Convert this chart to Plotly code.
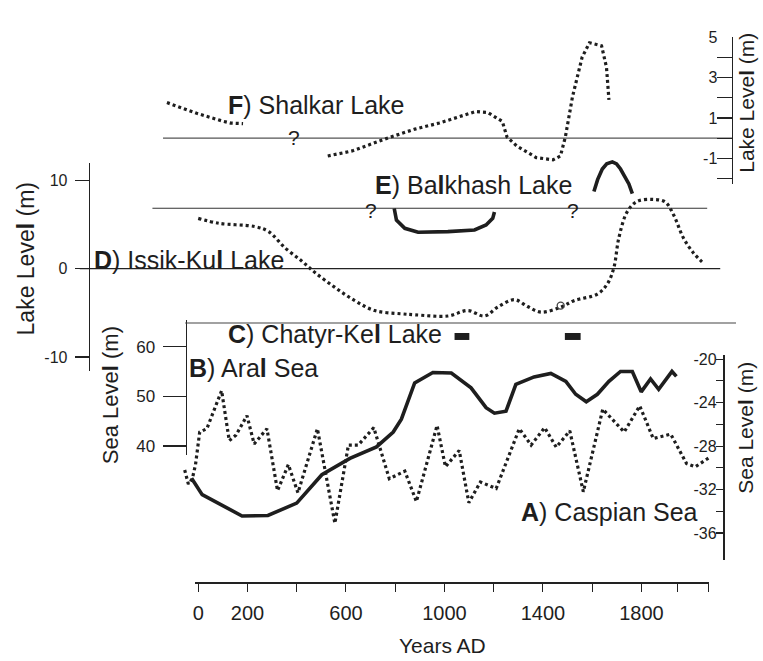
import plotly.graph_objects as go

W, H = 763, 661

# ---------------- data ----------------
caspian_years = [-55, -40, -24, -11, 6, 35, 95, 126, 153, 198, 227, 279, 322, 366, 405,
                 484, 555, 610, 650, 713, 776, 839, 886, 970, 1004, 1060, 1099, 1146, 1210,
                 1304, 1352, 1407, 1454, 1509, 1564, 1643, 1730, 1793, 1848, 1919, 1983, 2019, 2072]
caspian_level = [-30.2, -31.5, -31.0, -29.7, -26.7, -26.4, -22.9, -27.5, -27.0, -25.2, -27.8, -26.4,
                 -32.1, -29.7, -32.3, -26.4, -35.1, -27.9, -27.9, -26.3, -31.0, -30.3, -33.1, -26.1,
                 -29.9, -28.4, -33.2, -31.3, -31.9, -26.4, -27.9, -26.3, -28.1, -26.6, -32.2, -24.6,
                 -26.7, -24.3, -27.3, -26.9, -29.6, -29.9, -29.1]

aral_years = [-27, 16, 178, 283, 400, 502, 616, 724, 792, 825, 879, 953, 1028, 1108, 1169, 1203,
              1250, 1290, 1364, 1432, 1493, 1533, 1576, 1621, 1668, 1715, 1763, 1799, 1837, 1870,
              1924, 1942]
aral_level = [33.5, 30.2, 25.9, 26.0, 28.5, 34.2, 37.5, 39.8, 42.8, 45.4, 52.7, 54.8, 54.7, 51.7,
              47.7, 46.6, 47.0, 52.4, 53.9, 54.6, 53.0, 50.4, 48.9, 50.4, 53.0, 55.0, 55.0, 50.9,
              53.5, 51.4, 55.0, 54.0]

issikkul_years = [0, 84, 232, 286, 353, 421, 475, 555, 636, 717, 825, 879, 1014, 1095, 1162, 1216,
                  1284, 1338, 1392, 1472, 1526, 1621, 1661, 1688, 1708, 1742, 1783, 1850, 1897,
                  1931, 1971, 2011, 2046]
issikkul_level = [5.70, 5.14, 4.76, 4.20, 2.35, 0.85, -0.45, -2.12, -3.62, -4.74, -5.11, -5.22,
                  -5.36, -4.74, -5.36, -4.36, -3.51, -4.29, -4.92, -4.36, -3.62, -2.87, -1.75,
                  0.11, 3.46, 6.44, 7.63, 7.85, 7.55, 6.07, 3.46, 1.79, 0.78]
issikkul_circle_year = [1472]
issikkul_circle_level = [-4.18]

balkhash_years = [796, 805, 839, 893, 1014, 1122, 1169, 1196, 1203, None,
                  1607, 1622, 1641, 1659, 1682, 1699, 1715, 1735, 1749, 1763]
balkhash_level = [-0.03, -1.29, -2.18, -2.61, -2.54, -2.36, -1.82, -1.10, -0.40, None,
                  1.82, 3.11, 4.26, 4.82, 5.04, 4.82, 4.26, 3.32, 2.64, 1.58]

shalkar_years = [-127, -6, 103, 132, 182, None, 526, 625, 782, 880, 979, 1127, 1176, 1235, 1254,
                 1294, 1373, 1441, 1471, 1491, 1520, 1559, 1589, 1638, 1658, 1668]
shalkar_level = [1.76, 1.23, 0.83, 0.75, 0.72, None, -0.88, -0.63, 0.06, 0.45, 0.75, 1.32, 1.27,
                 0.83, 0.06, -0.39, -0.96, -1.07, -0.88, 0.06, 2.05, 4.00, 4.72, 4.57, 3.51, 1.89]

chatyrkel_years = [1041, 1101, None, 1489, 1553]
chatyrkel_level = [-1, -1, None, -1, -1]

# reference (zero) lines of the lake panels: [start year, end year]
shalkar_zero = [-143, 2168]
balkhash_zero = [-186, 2067]
issikkul_zero = [-481, 2120]
chatyrkel_zero = [-53, 2184]

year_ticks = [0, 200, 400, 600, 800, 1000, 1200, 1400, 1600, 1800, 1946, 2073]
year_labels = ['0', '200', '', '600', '', '1000', '', '1400', '', '1800', '', '']
caspian_ticks = [-20, -22, -24, -26, -28, -30, -32, -34, -36]
caspian_labels = ['-20', '', '-24', '', '-28', '', '-32', '', '-36']
aral_ticks = [40, 50, 60]
aral_labels = ['40', '50', '60']
issik_ticks = [10, 0, -10]
issik_labels = ['10', '0', '-10']
shalkar_ticks = [5, 4, 3, 2, 1, 0, -1, -2]
shalkar_labels = ['5', '', '3', '', '1', '', '-1', '']

# ---------------- geometry helpers (layout only) ----------------
def pxx(px):
    return px / W

def pxy(py):
    return 1 - py / H

YEAR0_PX, PX_PER_YEAR = 196.0, 0.2472

def year_at(px):
    return (px - YEAR0_PX) / PX_PER_YEAR

def lin_range(ref_px, ref_val, ppu, top_px=0.0, bottom_px=float(H)):
    return [ref_val - (bottom_px - ref_px) / ppu, ref_val + (ref_px - top_px) / ppu]

FONT = "Liberation Sans, Arial, Helvetica, sans-serif"
INK = "#1e1e1e"
LINE = "#222222"
DOT = "3px,3px"

fig = go.Figure()

def add(x, y, yaxis, **kw):
    fig.add_trace(go.Scatter(x=x, y=y, xaxis='x', yaxis=yaxis, mode='lines',
                             showlegend=False, hoverinfo='skip', **kw))

# zero lines
add(shalkar_zero, [0, 0], 'y7', line=dict(color='#555', width=1.2))
add(balkhash_zero, [0, 0], 'y6', line=dict(color='#333', width=1.1))
add(issikkul_zero, [0, 0], 'y4', line=dict(color='#222', width=1.2))
add(chatyrkel_zero, [0, 0], 'y9', line=dict(color='#444', width=1.1))

# series
add(shalkar_years, shalkar_level, 'y7', line=dict(color=INK, width=3.2, dash=DOT))
add(balkhash_years, balkhash_level, 'y6', line=dict(color=INK, width=3.6))
add(issikkul_years, issikkul_level, 'y4', line=dict(color=INK, width=3.2, dash=DOT),
    line_shape='spline')
fig.add_trace(go.Scatter(x=issikkul_circle_year, y=issikkul_circle_level, xaxis='x', yaxis='y4',
                         mode='markers', showlegend=False, hoverinfo='skip',
                         marker=dict(symbol='circle-open', size=7, color='#444',
                                     line=dict(width=1.3, color='#444'))))
add(chatyrkel_years, chatyrkel_level, 'y9', line=dict(color=INK, width=7))
add(aral_years, aral_level, 'y2', line=dict(color=INK, width=3.6))
add(caspian_years, caspian_level, 'y', line=dict(color=INK, width=3.2, dash=DOT))

# placeholders so that the pure-display axes get drawn
for ya in ['y3', 'y5', 'y8']:
    add([None], [None], ya)
fig.add_trace(go.Scatter(x=[None], y=[None], xaxis='x2', yaxis='y', mode='lines',
                         showlegend=False, hoverinfo='skip'))

hidden = dict(visible=False, showgrid=False, zeroline=False, fixedrange=True)

def shown(**kw):
    d = dict(showgrid=False, zeroline=False, showline=True, linecolor=LINE, linewidth=1.3,
             tickcolor=LINE, tickwidth=1.2, fixedrange=True, anchor='free',
             ticklabeloverflow='allow',
             tickfont=dict(family=FONT, size=16, color=INK), tickmode='array')
    d.update(kw)
    return d

fig.update_layout(
    width=W, height=H, autosize=False,
    margin=dict(l=0, r=0, t=0, b=0, pad=0),
    paper_bgcolor='white', plot_bgcolor='rgba(0,0,0,0)',
    font=dict(family=FONT, color=INK),
    xaxis=dict(domain=[0, 1], range=[year_at(0), year_at(W)], **hidden),
    xaxis2=shown(domain=[pxx(193), pxx(709)], range=[year_at(193), year_at(709)],
                 position=pxy(583.3), linewidth=2, ticks='outside', ticklen=8, tickwidth=1,
                 tickvals=year_ticks, ticktext=year_labels, ticklabelstandoff=4,
                 tickfont=dict(family=FONT, size=20, color=INK)),
    # Caspian (data + visible, right)
    yaxis=shown(domain=[pxy(560), pxy(352)], range=lin_range(356, -20, 11.02, 352, 560),
                side='right', position=pxx(723.3), ticks='inside', ticklen=7,
                ticklabelposition='inside', tickvals=caspian_ticks, ticktext=caspian_labels),
    # Aral data / visible
    yaxis2=dict(domain=[0, 1], range=lin_range(343.3, 60, 5.035), anchor='free', position=0, **hidden),
    yaxis3=shown(domain=[pxy(453), pxy(316)], range=lin_range(343.3, 60, 5.035, 316, 453),
                 side='left', position=pxx(183.3), ticks='outside', ticklen=23,
                 tickvals=aral_ticks, ticktext=aral_labels, ticklabelstandoff=4,
                 tickfont=dict(family=FONT, size=17, color=INK)),
    # Issik-Kul data / visible
    yaxis4=dict(domain=[0, 1], range=lin_range(264.3, 0, 8.95), anchor='free', position=0, **hidden),
    yaxis5=shown(domain=[pxy(368.3), pxy(156.7)], range=lin_range(264.3, 0, 8.95, 156.7, 368.3),
                 side='left', position=pxx(86), ticks='outside', ticklen=14,
                 tickvals=issik_ticks, ticktext=issik_labels, ticklabelstandoff=4),
    # Balkhash data
    yaxis6=dict(domain=[0, 1], range=lin_range(203, 0, 9.33), anchor='free', position=0, **hidden),
    # Shalkar data / visible
    yaxis7=dict(domain=[0, 1], range=lin_range(132, 0, 20.5), anchor='free', position=0, **hidden),
    yaxis8=shown(domain=[pxy(178), pxy(29.0)], range=lin_range(132, 0, 20.5, 29.0, 178),
                 side='right', position=pxx(732), ticks='inside', ticklen=15,
                 ticklabelposition='inside', tickvals=shalkar_ticks, ticktext=shalkar_labels),
    # Chatyr-Kel data
    yaxis9=dict(domain=[0, 1], range=lin_range(319.3, 0, 13.7), anchor='free', position=0, **hidden),
)

def note(text, x, y, size=25, angle=0, xanchor='left'):
    fig.add_annotation(text=text, x=pxx(x), y=pxy(y), xref='paper', yref='paper',
                       xanchor=xanchor, yanchor='middle', showarrow=False, textangle=angle,
                       font=dict(family=FONT, size=size, color=INK))

# panel labels
note('<b>F</b>) Shalkar Lake', 224, 98)
note('<b>E</b>) Ba<b>l</b>khash Lake', 371, 179)
note('<b>D</b>) Issik-Ku<b>l</b> Lake', 89, 255)
note('<b>C</b>) Chatyr-Ke<b>l</b> Lake', 224, 330)
note('<b>B</b>) Ara<b>l</b> Sea', 185, 365)
note('<b>A</b>) Caspian Sea', 518, 511)

# question marks
note('?', 292.5, 131, size=21, xanchor='center')
note('?', 369, 205, size=21, xanchor='center')
note('?', 572, 205, size=21, xanchor='center')

# axis titles
note('Years AD', 441, 646, size=21, xanchor='center')
note('Lake Leve<b>l</b> (m)', 23, 254, size=23, angle=-90, xanchor='center')
note('Sea Leve<b>l</b> (m)', 108, 393, size=22, angle=-90, xanchor='center')
note('Sea Leve<b>l</b> (m)', 746, 425.5, size=21, angle=-90, xanchor='center')
note('Lake Leve<b>l</b> (m)', 747, 96, size=21, angle=-90, xanchor='center')

fig.write_html("out.html",
               config={'displayModeBar': False, 'staticPlot': True},
               post_script="document.body.style.margin='0';document.body.style.padding='0';")
